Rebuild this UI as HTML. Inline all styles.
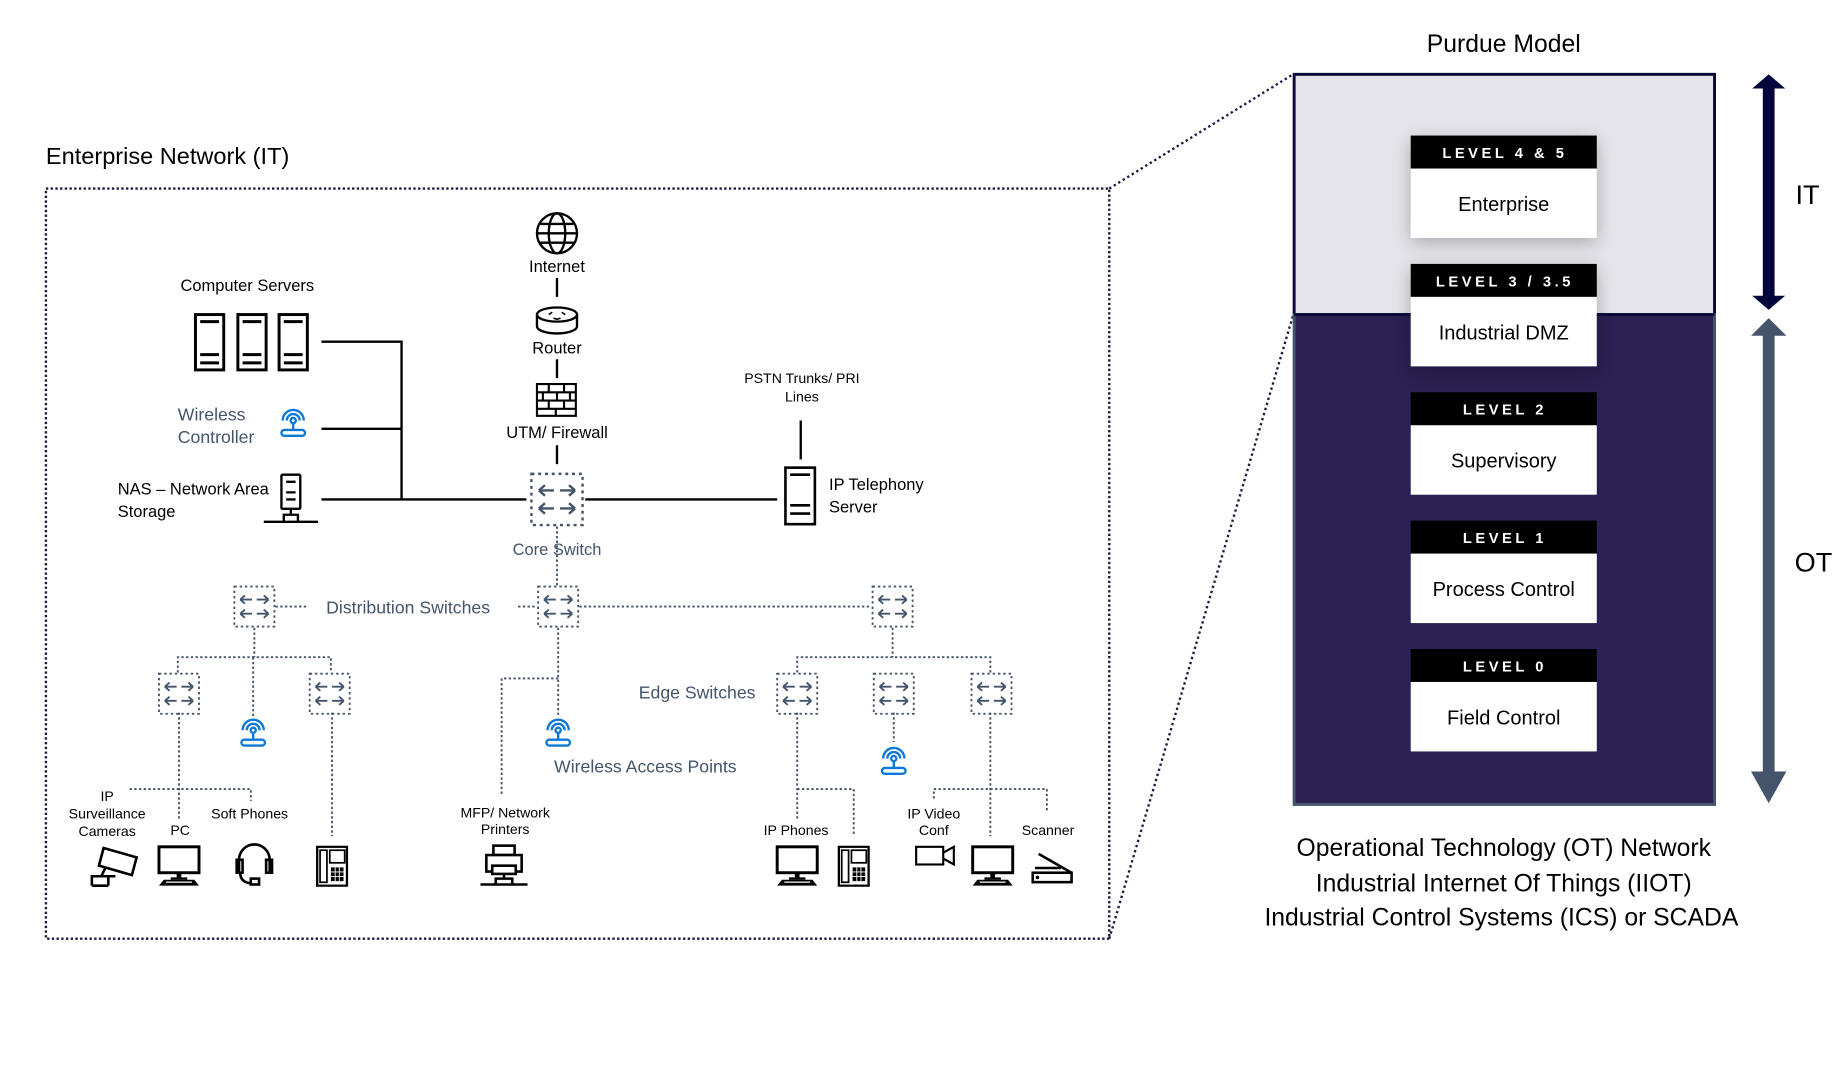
<!DOCTYPE html>
<html><head><meta charset="utf-8"><style>
html,body{margin:0;padding:0;background:#fff;width:1837px;height:1066px;overflow:hidden}
svg{display:block}
text{font-family:"Liberation Sans",sans-serif}
</style></head><body>
<svg width="1837" height="1066" viewBox="0 0 1560 905" xmlns="http://www.w3.org/2000/svg">
<defs>
<symbol id="sw" viewBox="0 0 36 36">
<rect x="1" y="1" width="34" height="34" fill="none" stroke="#44546a" stroke-width="1.6" stroke-dasharray="2,2.5"/>
<g stroke="#44546a" stroke-width="1.6" fill="none">
<path d="M6 12h10M6 12l4-3.5M6 12l4 3.5M20 12h10M30 12l-4-3.5M30 12l-4 3.5"/>
<path d="M6 24h10M6 24l4-3.5M6 24l4 3.5M20 24h10M30 24l-4-3.5M30 24l-4 3.5"/>
</g></symbol>
<symbol id="wifi" viewBox="0 0 26 26">
<g stroke="#0b78d7" stroke-width="2" fill="none">
<path d="M4 11a9 9 0 0 1 18 0"/><path d="M7.5 11a5.5 5.5 0 0 1 11 0"/>
<circle cx="13" cy="11" r="2.2"/><path d="M13 13v6"/><rect x="3" y="19" width="20" height="5" rx="2.5"/>
</g></symbol>
<symbol id="pc" viewBox="0 0 38 36">
<rect x="2" y="2" width="34" height="22" fill="none" stroke="#000" stroke-width="2.5"/>
<path d="M17 24h4v4h-4z M12 28h14v2H12z" fill="#000"/>
<path d="M6 30h26l4 5H2z" fill="#000"/><path d="M8 32h22" stroke="#fff" stroke-width="1"/>
</symbol>
<symbol id="phone" viewBox="0 0 28 36">
<rect x="1" y="1" width="26" height="34" fill="none" stroke="#000" stroke-width="2"/>
<rect x="3.5" y="4" width="6" height="28" fill="none" stroke="#000" stroke-width="1.5"/>
<rect x="12" y="4" width="13" height="11" fill="none" stroke="#000" stroke-width="1.5"/>
<rect x="13" y="19" width="11" height="12" fill="#000"/>
<path d="M13 23h11M13 27h11M16.7 19v12M20.3 19v12" stroke="#fff" stroke-width="0.8"/>
</symbol>
<filter id="sh" x="-30%" y="-30%" width="160%" height="160%"><feGaussianBlur stdDeviation="8"/></filter>
</defs>

<!-- Enterprise section -->
<text x="39" y="139" font-size="20" fill="#000">Enterprise Network (IT)</text>
<rect x="39" y="160" width="903" height="637" fill="none" stroke="#1a1a40" stroke-width="2" stroke-dasharray="2,2"/>
<path d="M942 160L1098 63M942 797L1098 268" stroke="#1a1a40" stroke-width="2" stroke-dasharray="2,2.5"/>

<!-- solid lines -->
<g stroke="#000" stroke-width="2" fill="none">
<path d="M273 290H341V424M273 364H341M273 424H447M497 424H660M680 357V390"/>
<path d="M473 236V252M473 305V321M473 378V394"/>
</g>
<!-- globe -->
<g stroke="#000" stroke-width="2" fill="none">
<circle cx="473" cy="198" r="17"/><ellipse cx="473" cy="198" rx="7" ry="17"/>
<path d="M456 198h34M459 190h28M459 206h28"/>
</g>
<text x="473" y="231" font-size="14" text-anchor="middle">Internet</text>
<!-- router -->
<g stroke="#000" stroke-width="2" fill="#fff">
<path d="M456 267v10a17 6 0 0 0 34 0v-10"/><ellipse cx="473" cy="267" rx="17" ry="6"/>
</g>
<path d="M466 267l3-2M480 267l-3-2M470 270l3 1 3-1" stroke="#000" stroke-width="1.3" fill="none"/>
<text x="473" y="300" font-size="14" text-anchor="middle">Router</text>
<!-- firewall -->
<g stroke="#000" stroke-width="1.8" fill="none">
<rect x="456" y="326" width="33" height="27"/>
<path d="M456 333h33M456 340h33M456 347h33M466 326v7M479 326v7M461 333v7M473 333v7M484 333v7M466 340v7M479 340v7M472 347v6"/>
</g>
<text x="473" y="372" font-size="14" text-anchor="middle">UTM/ Firewall</text>
<use href="#sw" x="449" y="401" width="48" height="46"/>
<text x="473" y="471" font-size="14" text-anchor="middle" fill="#44546a">Core Switch</text>

<!-- servers -->
<g stroke="#000" stroke-width="2.5" fill="none">
<rect x="166" y="267" width="24" height="47"/><rect x="202" y="267" width="24" height="47"/><rect x="237" y="267" width="24" height="47"/>
<path d="M170 273h16M170 301h16M170 308h16M206 273h16M206 301h16M206 308h16M241 273h16M241 301h16M241 308h16"/>
</g>
<text x="210" y="247" font-size="14" text-anchor="middle">Computer Servers</text>
<text x="151" y="357" font-size="15" fill="#44546a">Wireless</text>
<text x="151" y="376" font-size="15" fill="#44546a">Controller</text>
<use href="#wifi" x="236" y="346" width="26" height="26"/>
<text x="100" y="420" font-size="14">NAS – Network Area</text>
<text x="100" y="439" font-size="14">Storage</text>
<g stroke="#000" stroke-width="2" fill="#fff">
<rect x="239" y="403" width="16" height="29" rx="1"/>
<path d="M243 409h8M243 418h8M243 424h8" />
<path d="M247 432v5M241 437h12v6h-12zM224 443h17M253 443h17" fill="none"/>
</g>
<!-- IP telephony -->
<g stroke="#000" stroke-width="2.2" fill="none">
<rect x="667" y="397" width="25" height="48"/><path d="M671 403h17M671 429h17M671 436h17"/>
</g>
<text x="681" y="325" font-size="12" text-anchor="middle">PSTN Trunks/ PRI</text>
<text x="681" y="341" font-size="12" text-anchor="middle">Lines</text>
<text x="704" y="416" font-size="14">IP Telephony</text>
<text x="704" y="435" font-size="14">Server</text>

<!-- dotted tree lines -->
<g stroke="#44546a" stroke-width="1.6" fill="none" stroke-dasharray="2,2">
<path d="M473 447V497"/>
<path d="M234 515H262M440 515H456M492 515H740"/>
<path d="M216 533V558M151 571V558H281V571M215 558V609"/>
<path d="M152 605V695M110 670H213V680M282 605V710"/>
<path d="M474 533V609M474 576H426V674"/>
<path d="M758 533V558M677 571V558H841V571M759 605V630"/>
<path d="M677 605V695M677 670H725V710M841 605V710M793 678V670H889V690"/>
</g>
<use href="#sw" x="198" y="497" width="36" height="36"/>
<use href="#sw" x="456" y="497" width="36" height="36"/>
<use href="#sw" x="740" y="497" width="36" height="36"/>
<use href="#sw" x="134" y="571" width="36" height="36"/>
<use href="#sw" x="262" y="571" width="36" height="36"/>
<use href="#sw" x="659" y="571" width="36" height="36"/>
<use href="#sw" x="741" y="571" width="36" height="36"/>
<use href="#sw" x="824" y="571" width="36" height="36"/>
<use href="#wifi" x="202" y="609" width="26" height="26"/>
<use href="#wifi" x="461" y="609" width="26" height="26"/>
<use href="#wifi" x="746" y="633" width="26" height="26"/>
<text x="277" y="521" font-size="15" fill="#44546a">Distribution Switches</text>
<text x="592" y="593" font-size="15" text-anchor="middle" fill="#44546a">Edge Switches</text>
<text x="548" y="656" font-size="15" text-anchor="middle" fill="#44546a">Wireless Access Points</text>

<g font-size="12" text-anchor="middle">
<text x="91" y="680">IP</text><text x="91" y="695">Surveillance</text><text x="91" y="710">Cameras</text>
<text x="153" y="709">PC</text><text x="212" y="695">Soft Phones</text>
<text x="429" y="694">MFP/ Network</text><text x="429" y="708">Printers</text>
<text x="676" y="709">IP Phones</text>
<text x="793" y="695">IP Video</text><text x="793" y="709">Conf</text>
<text x="890" y="709">Scanner</text>
</g>
<!-- bottom icons -->
<g stroke="#000" stroke-width="2.2" fill="none">
<path d="M88 720l28 8-4 15-28-8zM90 736l-4 8h-8v8M78 752h14M92 744v8M84 744l14 0"/>
</g>
<use href="#pc" x="133" y="717" width="38" height="36"/>
<g stroke="#000" stroke-width="2.2" fill="none">
<path d="M203 740v-10a13 13 0 0 1 26 0v10"/><rect x="201" y="730" width="5" height="11"/><rect x="226" y="730" width="5" height="11"/><path d="M204 741q0 8 9 9"/><rect x="213" y="746" width="7" height="5"/>
</g>
<use href="#phone" x="268" y="718" width="28" height="35"/>
<g stroke="#000" stroke-width="2.2" fill="#fff">
<rect x="419" y="718" width="18" height="8"/><rect x="413" y="726" width="30" height="14"/><rect x="418" y="735" width="20" height="7"/>
<path d="M428 742v4M421 746h14v5h-14zM408 751h13M435 751h13" fill="none"/>
</g>
<use href="#pc" x="658" y="717" width="38" height="36"/>
<use href="#phone" x="711" y="718" width="28" height="35"/>
<g stroke="#000" stroke-width="1.8" fill="none"><rect x="778" y="719" width="23" height="15"/><path d="M801 724l9-5v15l-9-5"/></g>
<use href="#pc" x="824" y="717" width="38" height="36"/>
<g stroke="#000" stroke-width="2.2" fill="none"><path d="M882 725l28 16"/><rect x="877" y="741" width="33" height="8"/><path d="M879 737h22"/></g>
<circle cx="881" cy="745" r="1.5"/>

<!-- Purdue -->
<text x="1277" y="44" font-size="21" text-anchor="middle">Purdue Model</text>
<rect x="1099" y="63" width="357" height="204" fill="#e4e4ea" stroke="#0a0a3a" stroke-width="2.5"/>
<rect x="1099" y="267" width="357" height="416" fill="#2b2152" stroke="#44546a" stroke-width="2.5"/>
<path d="M1099 267H1456" stroke="#0a0a3a" stroke-width="2.5"/>
<g filter="url(#sh)" fill="#000" opacity="0.25">
<rect x="1198" y="119" width="158" height="87"/><rect x="1198" y="228" width="158" height="87"/>
</g>
<g font-size="17" text-anchor="middle">
<rect x="1198" y="115" width="158" height="28" fill="#000"/><rect x="1198" y="143" width="158" height="59" fill="#fff"/>
<rect x="1198" y="224" width="158" height="28" fill="#000"/><rect x="1198" y="252" width="158" height="59" fill="#fff"/>
<rect x="1198" y="333" width="158" height="28" fill="#000"/><rect x="1198" y="361" width="158" height="59" fill="#fff"/>
<rect x="1198" y="442" width="158" height="28" fill="#000"/><rect x="1198" y="470" width="158" height="59" fill="#fff"/>
<rect x="1198" y="551" width="158" height="28" fill="#000"/><rect x="1198" y="579" width="158" height="59" fill="#fff"/>
<text x="1277" y="179">Enterprise</text>
<text x="1277" y="288">Industrial DMZ</text>
<text x="1277" y="397">Supervisory</text>
<text x="1277" y="506">Process Control</text>
<text x="1277" y="615">Field Control</text>
</g>
<g font-size="12.5" font-weight="bold" fill="#fff" text-anchor="middle" letter-spacing="3">
<text x="1278" y="134">LEVEL 4 &amp; 5</text>
<text x="1278" y="243">LEVEL 3 / 3.5</text>
<text x="1278" y="352">LEVEL 2</text>
<text x="1278" y="461">LEVEL 1</text>
<text x="1278" y="570">LEVEL 0</text>
</g>
<!-- arrows -->
<path d="M1502 63l14 12h-9v176h9l-14 12-14-12h9V75h-9z" fill="#02063a"/>
<path d="M1502 270l15 15h-10v370h10l-15 27-15-27h10V285h-10z" fill="#44546a"/>
<text x="1535" y="173" font-size="23" text-anchor="middle">IT</text>
<text x="1540" y="485" font-size="23" text-anchor="middle">OT</text>
<g font-size="21" text-anchor="middle">
<text x="1277" y="727">Operational Technology (OT) Network</text>
<text x="1277" y="757">Industrial Internet Of Things (IIOT)</text>
<text x="1275" y="786">Industrial Control Systems (ICS) or SCADA</text>
</g>
</svg>
</body></html>
